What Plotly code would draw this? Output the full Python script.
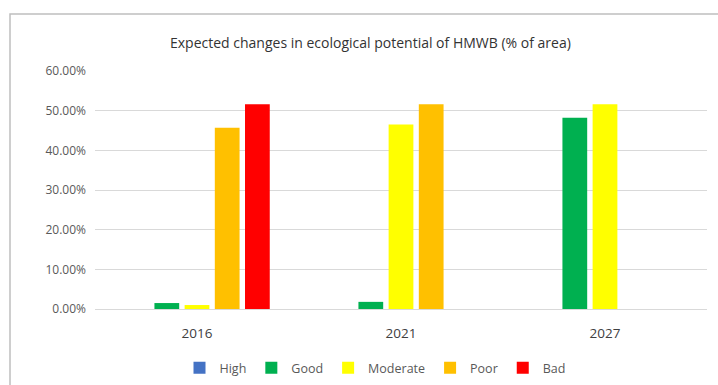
import plotly.graph_objects as go

years = ["2016", "2021", "2027"]
high = [0.0, 0.0, 0.0]
good = [0.015, 0.018, 0.482]
moderate = [0.010, 0.465, 0.516]
poor = [0.457, 0.516, 0.0]
bad = [0.516, 0.0, 0.0]

series = [
    ("High", high, "#4472C4"),
    ("Good", good, "#00B050"),
    ("Moderate", moderate, "#FFFF00"),
    ("Poor", poor, "#FFC000"),
    ("Bad", bad, "#FF0000"),
]

FONT = "Open Sans, Liberation Sans, sans-serif"

fig = go.Figure()
for name, vals, col in series:
    fig.add_trace(go.Bar(x=years, y=vals, name=name, marker=dict(color=col, line=dict(width=0))))

W, H = 718, 385
L, R, T, B = 95, 11, 71, 76
pw = W - L - R
ph = H - T - B

def px(x):
    return (x - L) / pw

def py(y):
    return (H - B - y) / ph

fig.update_layout(
    width=W, height=H,
    margin=dict(l=L, r=R, t=T, b=B, autoexpand=False),
    paper_bgcolor="white", plot_bgcolor="white",
    barmode="group", bargap=0.26, bargroupgap=0.18,
    font=dict(family=FONT, color="#595959", size=12),
    showlegend=True,
    legend=dict(orientation="h", x=px(375), xanchor="center", y=py(368), yanchor="middle",
                font=dict(size=12.5, color="#595959"), itemwidth=30, traceorder="normal",
                tracegroupgap=0),
    xaxis=dict(showgrid=False, showline=False, ticks="", tickfont=dict(size=13.5, color="#404040"),
               ticklabelstandoff=14),
    yaxis=dict(range=[0, 0.6], dtick=0.1, tickformat=".2%", showgrid=True, gridcolor="#d9d9d9",
               gridwidth=1, zeroline=True, zerolinecolor="#d9d9d9", zerolinewidth=1,
               showline=False, ticks="", tickfont=dict(size=12, color="#595959"), ticklabelstandoff=8),
    annotations=[dict(text="Expected changes in ecological potential of HMWB (% of area)",
                      xref="paper", yref="paper", x=px(370), y=py(42), xanchor="center", yanchor="middle",
                      showarrow=False, font=dict(size=14, color="#333333", family=FONT))],
    shapes=[dict(type="rect", xref="paper", yref="paper", x0=px(10), x1=px(740), y0=py(400), y1=py(14),
                 line=dict(color="#bfbfbf", width=1.5), fillcolor="rgba(0,0,0,0)", layer="below")],
)

fig.write_html("out.html")
